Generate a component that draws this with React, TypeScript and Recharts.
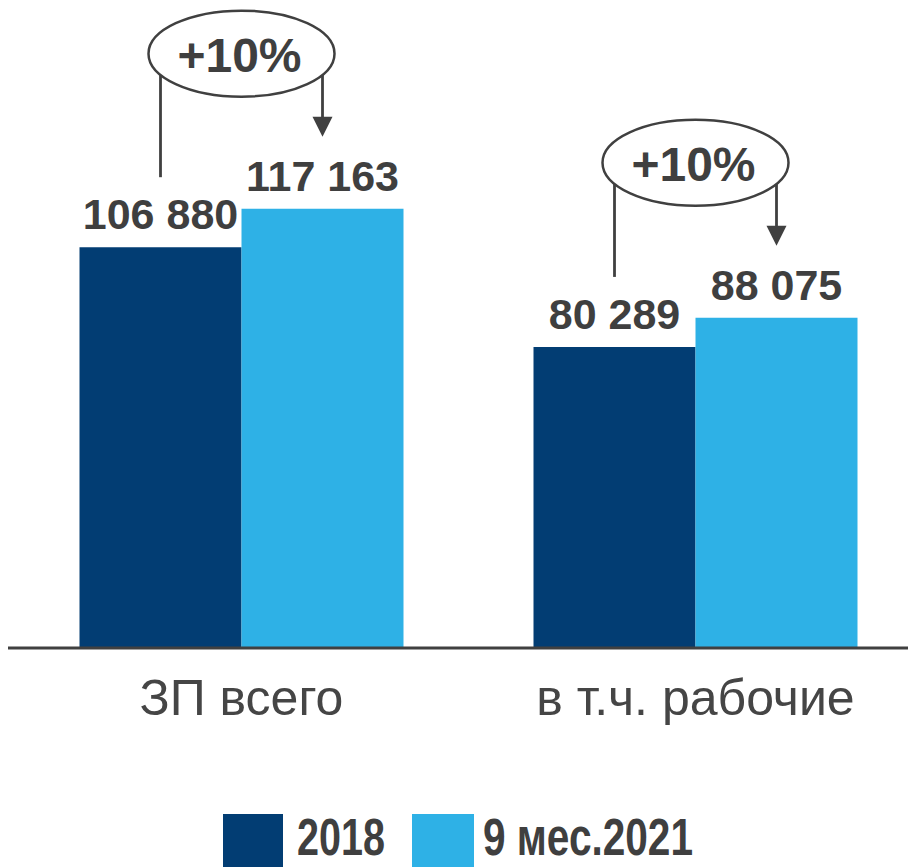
import React from 'react';
import { BarChart, Bar, XAxis, YAxis, LabelList, Legend } from 'recharts';

const categories = ['ЗП всего', 'в т.ч. рабочие'];
const values2018 = [106880, 80289];
const values2021 = [117163, 88075];
const growthLabels = ['+10%', '+10%'];
const seriesNames = ['2018', '9 мес.2021'];

const data = categories.map((c, i) => ({
  category: c,
  v2018: values2018[i],
  v2021: values2021[i],
}));

const FONT = '"Liberation Sans", Arial, sans-serif';
const TEXT = '#3f3f3f';
const DARK = '#023D73';
const LIGHT = '#2EB1E6';

const fmt = (v: number) => String(v).replace(/\B(?=(\d{3})+(?!\d))/g, ' ');

const getBox = (props: any) => {
  const vb = props.viewBox || {};
  return {
    x: props.x ?? vb.x,
    y: props.y ?? vb.y,
    width: props.width ?? vb.width,
    height: props.height ?? vb.height,
  };
};

const ValueLabel = (props: any) => {
  const { x, y, width } = getBox(props);
  return (
    <text
      x={x + width / 2}
      y={y - 18}
      textAnchor="middle"
      fontFamily={FONT}
      fontWeight="bold"
      fontSize={43}
      fill={TEXT}
    >
      {fmt(Number(props.value))}
    </text>
  );
};

const GrowthAnnotation = (props: any) => {
  const { x, y, width, height } = getBox(props);
  const index = props.index ?? 0;
  const v2 = values2021[index];
  const v1 = values2018[index];
  const base = y + height;
  const y1 = base - (v1 * height) / v2;
  const cx = x;
  const c1 = x - width / 2;
  const c2 = x + width / 2;
  const rx = 93;
  const ry = 43;
  const cy = y - 112 - ry;
  const dx = width / 2;
  const yEdge = cy + ry * Math.sqrt(Math.max(0, 1 - (dx / rx) * (dx / rx)));
  const tip = y - 72;
  const stroke = '#404040';
  return (
    <g>
      <line x1={c1} y1={yEdge} x2={c1} y2={y1 - 70} stroke={stroke} strokeWidth={2.8} />
      <line x1={c2} y1={yEdge} x2={c2} y2={tip - 18} stroke={stroke} strokeWidth={2.8} />
      <polygon
        points={`${c2 - 10},${tip - 20} ${c2 + 10},${tip - 20} ${c2},${tip}`}
        fill={stroke}
      />
      <ellipse cx={cx} cy={cy} rx={rx} ry={ry} fill="#ffffff" stroke={stroke} strokeWidth={2.5} />
      <text
        x={cx - 2}
        y={cy + 18}
        textAnchor="middle"
        fontFamily={FONT}
        fontWeight="bold"
        fontSize={48}
        fill={TEXT}
      >
        {growthLabels[index]}
      </text>
    </g>
  );
};

const CategoryTick = (props: any) => {
  const { x, y, payload } = props;
  return (
    <text x={x} y={y + 59} textAnchor="middle" fontFamily={FONT} fontSize={50} fill="#454545">
      {payload.value}
    </text>
  );
};

const legendLayout = [
  { sx: 223, sw: 60, tx: 297, tl: 88 },
  { sx: 412, sw: 62, tx: 483, tl: 210 },
];

const LegendContent = (props: any) => {
  const payload = props.payload || [];
  return (
    <svg width={908} height={53} style={{ display: 'block', overflow: 'visible' }}>
      {payload.map((p: any, i: number) => {
        const l = legendLayout[i] || legendLayout[0];
        return (
          <g key={i}>
            <rect x={l.sx} y={0} width={l.sw} height={60} fill={p.color} />
            <text
              x={l.tx}
              y={41}
              fontFamily={FONT}
              fontWeight="bold"
              fontSize={51}
              fill={TEXT}
              textLength={l.tl}
              lengthAdjust="spacingAndGlyphs"
            >
              {p.value}
            </text>
          </g>
        );
      })}
    </svg>
  );
};

export default function App() {
  return (
    <div
      style={{
        position: 'absolute',
        left: 0,
        top: 0,
        width: 908,
        height: 867,
        overflow: 'hidden',
        background: '#ffffff',
      }}
    >
      <BarChart
        width={923}
        height={867}
        data={data}
        margin={{ top: 48, left: 8, right: 0, bottom: 0 }}
        barGap={0}
        barCategoryGap={65}
      >
        <XAxis
          dataKey="category"
          tickLine={false}
          axisLine={{ stroke: '#404040', strokeWidth: 3 }}
          interval={0}
          padding={{ left: 6.5, right: 0.5 }}
          height={166}
          tick={<CategoryTick />}
        />
        <YAxis hide domain={[0, 160000]} />
        <Legend
          verticalAlign="bottom"
          content={<LegendContent />}
          wrapperStyle={{ left: 0, bottom: 0, width: 908, height: 53 }}
        />
        <Bar dataKey="v2018" name={seriesNames[0]} fill={DARK} isAnimationActive={false}>
          <LabelList dataKey="v2018" content={<ValueLabel />} />
        </Bar>
        <Bar dataKey="v2021" name={seriesNames[1]} fill={LIGHT} isAnimationActive={false}>
          <LabelList dataKey="v2021" content={<ValueLabel />} />
          <LabelList dataKey="v2021" content={<GrowthAnnotation />} />
        </Bar>
      </BarChart>
    </div>
  );
}
